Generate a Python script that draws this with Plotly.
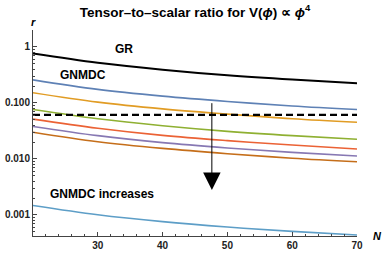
import plotly.graph_objects as go
import math

N = [20, 30, 40, 50, 60, 70]
r_gr = [0.76, 0.52, 0.39, 0.31, 0.26, 0.225]
r_c1 = [0.257, 0.174, 0.132, 0.106, 0.088, 0.076]
r_c2 = [0.152, 0.103, 0.078, 0.063, 0.052, 0.045]
r_c3 = [0.076, 0.052, 0.039, 0.031, 0.026, 0.0225]
r_c4 = [0.0514, 0.0353, 0.0263, 0.0212, 0.0177, 0.0150]
r_c5 = [0.038, 0.026, 0.0195, 0.0157, 0.0131, 0.0113]
r_c6 = [0.030, 0.0203, 0.0154, 0.0124, 0.0103, 0.0089]
r_c7 = [0.00148, 0.00101, 0.00076, 0.00061, 0.00051, 0.00044]
r_bound = 0.061

x_ticks = [30, 40, 50, 60, 70]
y_ticks = [0.001, 0.01, 0.1, 1]
y_ticklabels = ["0.001", "0.010", "0.100", "1"]

colors = ["#5E81B5", "#E19C24", "#8FB032", "#EB6235", "#8778B3", "#C56E1A", "#5D9EC7"]
series = [r_c1, r_c2, r_c3, r_c4, r_c5, r_c6, r_c7]

fig = go.Figure()
fig.add_trace(go.Scatter(x=N, y=r_gr, mode="lines", line=dict(color="black", width=2, shape="spline")))
for s, c in zip(series, colors):
    fig.add_trace(go.Scatter(x=N, y=s, mode="lines", line=dict(color=c, width=1.6, shape="spline")))
fig.add_trace(go.Scatter(x=[N[0], N[-1]], y=[r_bound, r_bound], mode="lines",
                         line=dict(color="black", width=2.4, dash="7px,4px")))

font = "Liberation Sans, Arial, sans-serif"
tickfont = dict(size=10, color="#222", family=font)
fig.update_layout(
    width=382, height=254,
    margin=dict(l=33, r=25, t=30, b=18),
    plot_bgcolor="white", paper_bgcolor="white",
    showlegend=False,
    font=dict(family=font, size=9, color="#222"),
    title=dict(text="<b>Tensor–to–scalar ratio for V(<i>ϕ</i>) ∝ <i>ϕ</i><sup>4</sup></b>",
               x=0.5, xref="paper", y=1 - 12 / 254, yref="container", xanchor="center", yanchor="middle",
               font=dict(size=13.5, color="black", family=font)),
    xaxis=dict(range=[20, 70], showgrid=False, zeroline=False, showline=True, linecolor="#444",
               linewidth=1, ticks="inside", ticklen=4, tickcolor="#444", tickvals=x_ticks,
               ticktext=["<b>%d</b>" % v for v in x_ticks], tickfont=tickfont, automargin=False,
               minor=dict(ticks="inside", ticklen=2, dtick=2, tickcolor="#444", showgrid=False)),
    yaxis=dict(type="log", range=[-3.375, 0.30], showgrid=False, zeroline=False, showline=True,
               linecolor="#444", linewidth=1, ticks="inside", ticklen=4, tickcolor="#444",
               tickvals=y_ticks, ticktext=["<b>%s</b>" % t for t in y_ticklabels],
               tickfont=tickfont, automargin=False,
               minor=dict(ticks="inside", ticklen=2, dtick="D1", tickcolor="#444", showgrid=False)),
)

fig.add_annotation(x=47.6, y=math.log10(0.0028), ax=47.6, ay=math.log10(0.105),
                   xref="x", yref="y", axref="x", ayref="y", text="", showarrow=True,
                   arrowhead=2, arrowsize=3.5, arrowwidth=1, arrowcolor="black")
lab = dict(size=12, color="black", family=font)
fig.add_annotation(x=34.0, y=math.log10(0.92), xref="x", yref="y", text="<b>GR</b>", showarrow=False, font=lab)
fig.add_annotation(x=27.7, y=math.log10(0.32), xref="x", yref="y", text="<b>GNMDC</b>", showarrow=False, font=lab)
fig.add_annotation(x=30.6, y=math.log10(0.0024), xref="x", yref="y", text="<b>GNMDC increases</b>",
                   showarrow=False, font=lab)
fig.add_annotation(x=0, y=1.0, xref="paper", yref="paper", text="<b><i>r</i></b>", showarrow=False,
                   xanchor="center", yanchor="bottom", yshift=0, font=dict(size=11, color="black", family=font))
fig.add_annotation(x=1.0, y=0, xref="paper", yref="paper", text="<b><i>N</i></b>", showarrow=False,
                   xanchor="left", yanchor="middle", xshift=14, font=dict(size=11, color="black", family=font))

fig.write_html("out.html", config={"displayModeBar": False},
               post_script="document.body.style.margin='0';")
